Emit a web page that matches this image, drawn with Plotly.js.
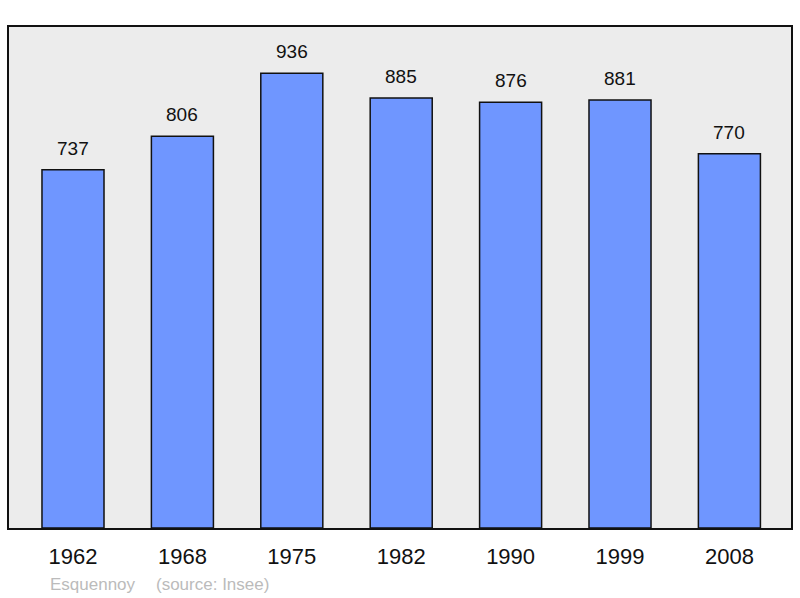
<!DOCTYPE html>
<html><head><meta charset="utf-8">
<script src="https://cdn.plot.ly/plotly-3.0.1.min.js"></script>
<style>body{margin:0;background:#fff}#c{width:800px;height:598px}</style>
</head><body><div id="c"></div>
<script>
const years = ["1962","1968","1975","1982","1990","1999","2008"];
const population = [737, 806, 936, 885, 876, 881, 770];
const commune = "Esquennoy";
const source = "(source: Insee)";

const trace = {
  type: "bar",
  x: years.map((_, i) => i),
  y: population,
  width: 0.567,
  marker: {color: "#6f96ff", line: {color: "#111", width: 1.5}},
  hoverinfo: "none"
};

const annotations = years.map((yr, i) => ({
  x: i, y: population[i], xref: "x", yref: "y",
  text: String(population[i]), showarrow: false,
  yanchor: "bottom", yshift: 9,
  font: {family: "Liberation Sans, Arial, sans-serif", size: 19, color: "#111"}
}));
annotations.push({
  xref: "paper", yref: "paper", x: 0.05, y: -0.112, xanchor: "left", yanchor: "middle",
  text: commune, showarrow: false,
  font: {family: "Liberation Sans, Arial, sans-serif", size: 17, color: "#bbbbbb"}
});
annotations.push({
  xref: "paper", yref: "paper", x: 0.186, y: -0.112, xanchor: "left", yanchor: "middle",
  text: source, showarrow: false,
  font: {family: "Liberation Sans, Arial, sans-serif", size: 17, color: "#bbbbbb"}
});

const layout = {
  width: 800, height: 598,
  margin: {l: 9, r: 9, t: 27, b: 70, pad: 0},
  paper_bgcolor: "#ffffff",
  plot_bgcolor: "#ececec",
  showlegend: false,
  xaxis: {
    type: "linear", range: [-0.585, 6.563], fixedrange: true,
    tickmode: "array", tickvals: years.map((_, i) => i), ticktext: years,
    showgrid: false, zeroline: false, ticks: "", ticklabelstandoff: 8,
    showline: true, mirror: true, linecolor: "#111", linewidth: 2,
    tickfont: {family: "Liberation Sans, Arial, sans-serif", size: 22, color: "#111"}
  },
  yaxis: {
    range: [0, 1031], showgrid: false, zeroline: false, showticklabels: false, ticks: "",
    showline: true, mirror: true, linecolor: "#111", linewidth: 2, fixedrange: true
  },
  annotations: annotations
};

Plotly.newPlot("c", [trace], layout, {staticPlot: true, displayModeBar: false});
</script></body></html>
